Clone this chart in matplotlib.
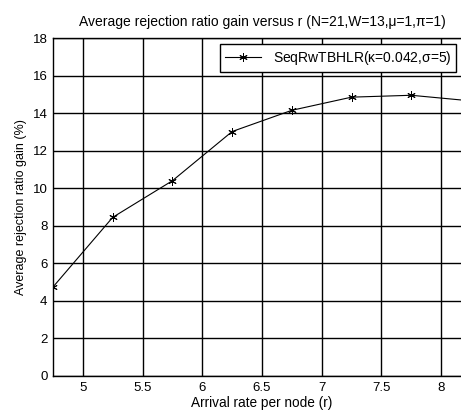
import matplotlib
matplotlib.use("Agg")
import matplotlib.pyplot as plt

plt.rcParams["font.family"] = ["Liberation Sans", "DejaVu Sans"]

arrival_rate = [4.75, 5.25, 5.75, 6.25, 6.75, 7.25, 7.75, 8.25]
gain = [4.74, 8.45, 10.4, 13.02, 14.15, 14.85, 14.95, 14.65]
xticks = [5, 5.5, 6, 6.5, 7, 7.5, 8]
yticks = list(range(0, 19, 2))

W, H = 461, 412
fig = plt.figure(figsize=(W / 100, H / 100), dpi=100)
# the original image crops the right edge of the axes
ax = fig.add_axes([53 / W, 1 - 376 / H, (471 - 53) / W, (376 - 38) / H])

ax.plot(arrival_rate, gain, "-", color="black", lw=0.8, marker=(6, 2, 0),
        ms=6, mew=0.7, label=r"SeqRwTBHLR($\mathregular{\kappa}$=0.042,$\mathregular{\sigma}$=5)")
ax.set_xlim(4.75, 8.25)
ax.set_ylim(0, 18)
ax.set_xticks(xticks)
ax.set_xticklabels([f"{t:g}" for t in xticks])
ax.set_yticks(yticks)
ax.grid(True, color="black", lw=1.0, ls="-")
ax.tick_params(direction="in", length=0, labelsize=9.5, pad=4)
for s in ax.spines.values():
    s.set_linewidth(1.0)

ax.set_title("Average rejection ratio gain versus r (N=21,W=13,\u03bc=1,\u03c0=1)",
             fontsize=10, pad=9)
ax.set_xlabel("Arrival rate per node (r)", fontsize=9.8, labelpad=2)
ax.set_ylabel("Average rejection ratio gain (%)", fontsize=9, labelpad=4)

leg = ax.legend(loc="upper right", bbox_to_anchor=(456 / W, 1 - 44 / H),
                bbox_transform=fig.transFigure, borderaxespad=0, fontsize=10,
                fancybox=False, framealpha=1, edgecolor="black", handlelength=2.6,
                borderpad=0.35)
leg.get_frame().set_linewidth(1.0)

fig.savefig("out.png", dpi=100)
